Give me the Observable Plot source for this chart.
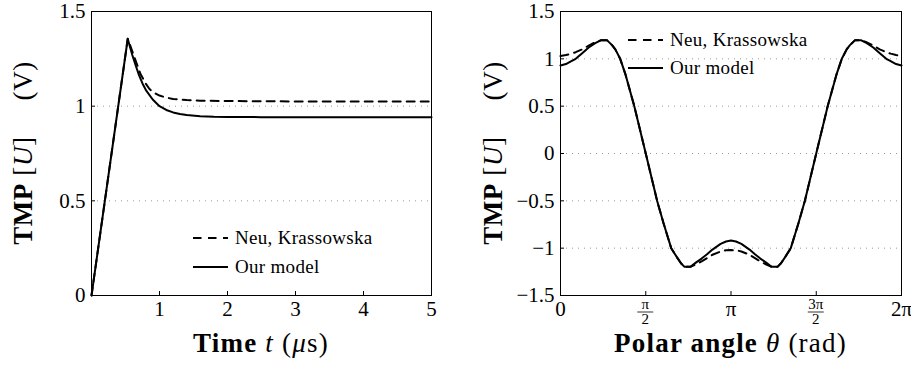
<!DOCTYPE html>
<html><head><meta charset="utf-8">
<script src="https://cdn.jsdelivr.net/npm/d3@7"></script>
<script src="https://cdn.jsdelivr.net/npm/@observablehq/plot@0.6"></script>
<style>
body{margin:0;background:#fff;}
#wrap{position:relative;width:911px;height:365px;overflow:hidden;}
#left{position:absolute;left:0;top:0;}
#right{position:absolute;left:460px;top:0;}
</style></head><body>
<div id="wrap"><div id="left"></div><div id="right"></div></div>
<script>
const FONT = "'Liberation Serif', 'Times New Roman', serif";

// ---------- Left panel data: TMP vs time (µs) ----------
const tModel = [0, 0.533, 0.56, 0.6, 0.65, 0.7, 0.75, 0.8, 0.9, 1.0, 1.1, 1.2, 1.3, 1.4, 1.6, 1.8, 2.0, 2.5, 3, 4, 5];
const vModel = [0, 1.356, 1.32, 1.27, 1.215, 1.163, 1.12, 1.085, 1.035, 1.0, 0.98, 0.967, 0.959, 0.953, 0.947, 0.944, 0.943, 0.942, 0.942, 0.942, 0.942];
const tNeu = [0, 0.533, 0.56, 0.6, 0.65, 0.72, 0.8, 0.85, 0.9, 1.0, 1.1, 1.2, 1.4, 1.6, 2.0, 3, 4, 5];
const vNeu = [0, 1.356, 1.33, 1.29, 1.24, 1.17, 1.118, 1.092, 1.075, 1.056, 1.045, 1.038, 1.032, 1.029, 1.027, 1.025, 1.025, 1.025];
const leftXTicks = [1, 2, 3, 4, 5];
const leftYTicks = [0, 0.5, 1, 1.5];

// ---------- Right panel data: TMP vs polar angle (rad) ----------
const thModel = [0, 0.1, 0.2, 0.28, 0.4, 0.52, 0.64, 0.74, 0.86, 0.95, 1.01, 1.10, 1.2, 1.36, 1.571, 1.78, 1.9, 2.04, 2.15, 2.22, 2.28, 2.40, 2.5, 2.6, 2.7, 2.8, 2.95, 3.05, 3.1416,
  3.233, 3.333, 3.483, 3.583, 3.683, 3.783, 3.883, 4.003, 4.063, 4.133, 4.243, 4.383, 4.503, 4.712, 4.923, 5.083, 5.183, 5.273, 5.333, 5.423, 5.543, 5.643, 5.763, 5.883, 6.003, 6.083, 6.183, 6.2832];
const uModel = [0.93, 0.945, 0.975, 1.0, 1.06, 1.12, 1.165, 1.195, 1.195, 1.145, 1.10, 1.0, 0.83, 0.5, 0.0, -0.5, -0.74, -1.0, -1.1, -1.16, -1.195, -1.195, -1.15, -1.11, -1.065, -1.015, -0.955, -0.93, -0.92,
  -0.93, -0.955, -1.015, -1.065, -1.11, -1.15, -1.195, -1.195, -1.16, -1.1, -1.0, -0.74, -0.5, 0.0, 0.5, 0.83, 1.0, 1.10, 1.145, 1.195, 1.195, 1.165, 1.12, 1.06, 1.0, 0.975, 0.945, 0.93];
const thNeu = [0, 0.1, 0.2, 0.28, 0.4, 0.52, 0.64, 0.74, 0.86, 0.95, 1.01, 1.10, 1.2, 1.36, 1.571, 1.78, 1.9, 2.04, 2.15, 2.22, 2.28, 2.40, 2.5, 2.6, 2.7, 2.8, 2.95, 3.05, 3.1416,
  3.233, 3.333, 3.483, 3.583, 3.683, 3.783, 3.883, 4.003, 4.063, 4.133, 4.243, 4.383, 4.503, 4.712, 4.923, 5.083, 5.183, 5.273, 5.333, 5.423, 5.543, 5.643, 5.763, 5.883, 6.003, 6.083, 6.183, 6.2832];
const uNeu = [1.03, 1.04, 1.055, 1.07, 1.10, 1.14, 1.175, 1.195, 1.195, 1.145, 1.10, 1.0, 0.83, 0.5, 0.0, -0.5, -0.74, -1.0, -1.1, -1.16, -1.195, -1.195, -1.17, -1.14, -1.105, -1.07, -1.035, -1.022, -1.02,
  -1.022, -1.035, -1.07, -1.105, -1.14, -1.17, -1.195, -1.195, -1.16, -1.1, -1.0, -0.74, -0.5, 0.0, 0.5, 0.83, 1.0, 1.10, 1.145, 1.195, 1.195, 1.175, 1.14, 1.10, 1.07, 1.055, 1.04, 1.03];
const rightXTicks = [0, Math.PI / 2, Math.PI, 3 * Math.PI / 2, 2 * Math.PI];
const rightXLabels = ["0", "π/2", "π", "3π/2", "2π"];
const rightYTicks = [-1.5, -1, -0.5, 0, 0.5, 1, 1.5];

const seriesNames = ["Neu, Krassowska", "Our model"];

const zip = (xs, ys) => xs.map((x, i) => ({x, y: ys[i]}));
const fmt = d => String(d).replace("-", "\u2212");

function panel({width, marginLeft, marginRight, xDomain, yDomain, xTicks, yTicks, neu, model, xTickFormat}) {
  const H = 365, mt = 11, mb = 70;
  const plotW = width - marginLeft - marginRight, plotH = H - mt - mb;
  return Plot.plot({
    width, height: H, marginTop: mt, marginBottom: mb, marginLeft, marginRight,
    style: {fontFamily: FONT, fontSize: "21px", color: "#000", background: "#fff", overflow: "visible"},
    x: {domain: xDomain},
    y: {domain: yDomain},
    marks: [
      Plot.gridY(yTicks, {stroke: "#999", strokeOpacity: 1, strokeDasharray: "1,5", strokeWidth: 1}),
      Plot.tickX(xTicks, {x: d => d, insetTop: plotH - 4, stroke: "#000"}),
      Plot.tickY(yTicks, {y: d => d, insetRight: plotW - 4, stroke: "#000"}),
      Plot.line(neu, {x: "x", y: "y", stroke: "#000", strokeWidth: 2, strokeDasharray: "8,6"}),
      Plot.line(model, {x: "x", y: "y", stroke: "#000", strokeWidth: 2}),
      Plot.frame({stroke: "#000", strokeWidth: 1}),
      Plot.axisX(xTicks, {tickSize: 0, tickPadding: 6, label: null, tickFormat: xTickFormat, fontSize: 21}),
      Plot.axisY(yTicks, {tickSize: 0, tickPadding: 6, label: null, tickFormat: fmt, fontSize: 21})
    ]
  });
}

const left = panel({
  width: 460, marginLeft: 91, marginRight: 29, xDomain: [0, 5], yDomain: [0, 1.5],
  xTicks: leftXTicks, yTicks: leftYTicks, neu: zip(tNeu, vNeu), model: zip(tModel, vModel),
  xTickFormat: d => String(d)
});
const right = panel({
  width: 451, marginLeft: 100, marginRight: 10, xDomain: [0, 2 * Math.PI], yDomain: [-1.5, 1.5],
  xTicks: rightXTicks, yTicks: rightYTicks, neu: zip(thNeu, uNeu), model: zip(thModel, uModel),
  xTickFormat: (d, i) => rightXLabels[i].includes("/") ? "" : rightXLabels[i]
});
document.getElementById("left").appendChild(left);
document.getElementById("right").appendChild(right);

function decorate(chart, o) {
  const svg = d3.select(chart);
  const g = svg.append("g").style("font-family", FONT).attr("fill", "#000").attr("text-anchor", "start");
  // x title
  const xt = g.append("text").attr("x", o.xTitleX).attr("y", 352).attr("text-anchor", "middle")
    .style("font-size", "27px").style("letter-spacing", "1.2px");
  o.xTitle.forEach(p => xt.append("tspan").attr("font-weight", p.b ? "bold" : null).attr("font-style", p.i ? "italic" : null).text(p.t));
  // y title
  const yt = g.append("text").attr("transform", `translate(${o.yTitleX},153) rotate(-90)`).attr("text-anchor", "middle")
    .style("font-size", "27px").style("letter-spacing", "0.6px");
  yt.append("tspan").attr("font-weight", "bold").text("TMP");
  yt.append("tspan").text(" [");
  yt.append("tspan").attr("font-style", "italic").text("U");
  yt.append("tspan").text("]");
  yt.append("tspan").attr("dx", 36).text("(V)");
  // legend
  const L = o.legend;
  const rows = [{dash: "8.5,6.5", y: L.y0, name: seriesNames[0]}, {dash: null, y: L.y1, name: seriesNames[1]}];
  rows.forEach(r => {
    g.append("line").attr("x1", L.x0).attr("x2", L.x0 + 35).attr("y1", r.y).attr("y2", r.y)
      .attr("stroke", "#000").attr("stroke-width", 2).attr("stroke-dasharray", r.dash);
    g.append("text").attr("x", L.x0 + 42).attr("y", r.y + 6).attr("text-anchor", "start")
      .style("font-size", "19px").style("letter-spacing", "0.3px").text(r.name);
  });
  // fraction tick labels
  if (o.fractions) {
    const sx = chart.scale("x");
    rightXTicks.forEach((v, i) => {
      const lab = rightXLabels[i];
      if (!lab.includes("/")) return;
      const [num, den] = lab.split("/");
      const cx = sx.apply(v);
      g.append("text").attr("x", cx).attr("y", 309).attr("text-anchor", "middle").style("font-size", "15px").text(num);
      g.append("line").attr("x1", cx - 8).attr("x2", cx + 8).attr("y1", 312).attr("y2", 312).attr("stroke", "#000").attr("stroke-width", 0.8);
      g.append("text").attr("x", cx).attr("y", 324).attr("text-anchor", "middle").style("font-size", "15px").text(den);
    });
  }
}

decorate(left, {
  xTitleX: 261, yTitleX: 32,
  xTitle: [{t: "Time", b: true}, {t: " "}, {t: "t", i: true}, {t: " ("}, {t: "μ", i: true}, {t: "s)"}],
  legend: {x0: 193, y0: 238, y1: 267}
});
decorate(right, {
  xTitleX: 270.5, yTitleX: 42,
  xTitle: [{t: "Polar angle", b: true}, {t: " "}, {t: "θ", i: true}, {t: " (rad)"}],
  legend: {x0: 168, y0: 40, y1: 68},
  fractions: true
});
</script>
</body></html>
